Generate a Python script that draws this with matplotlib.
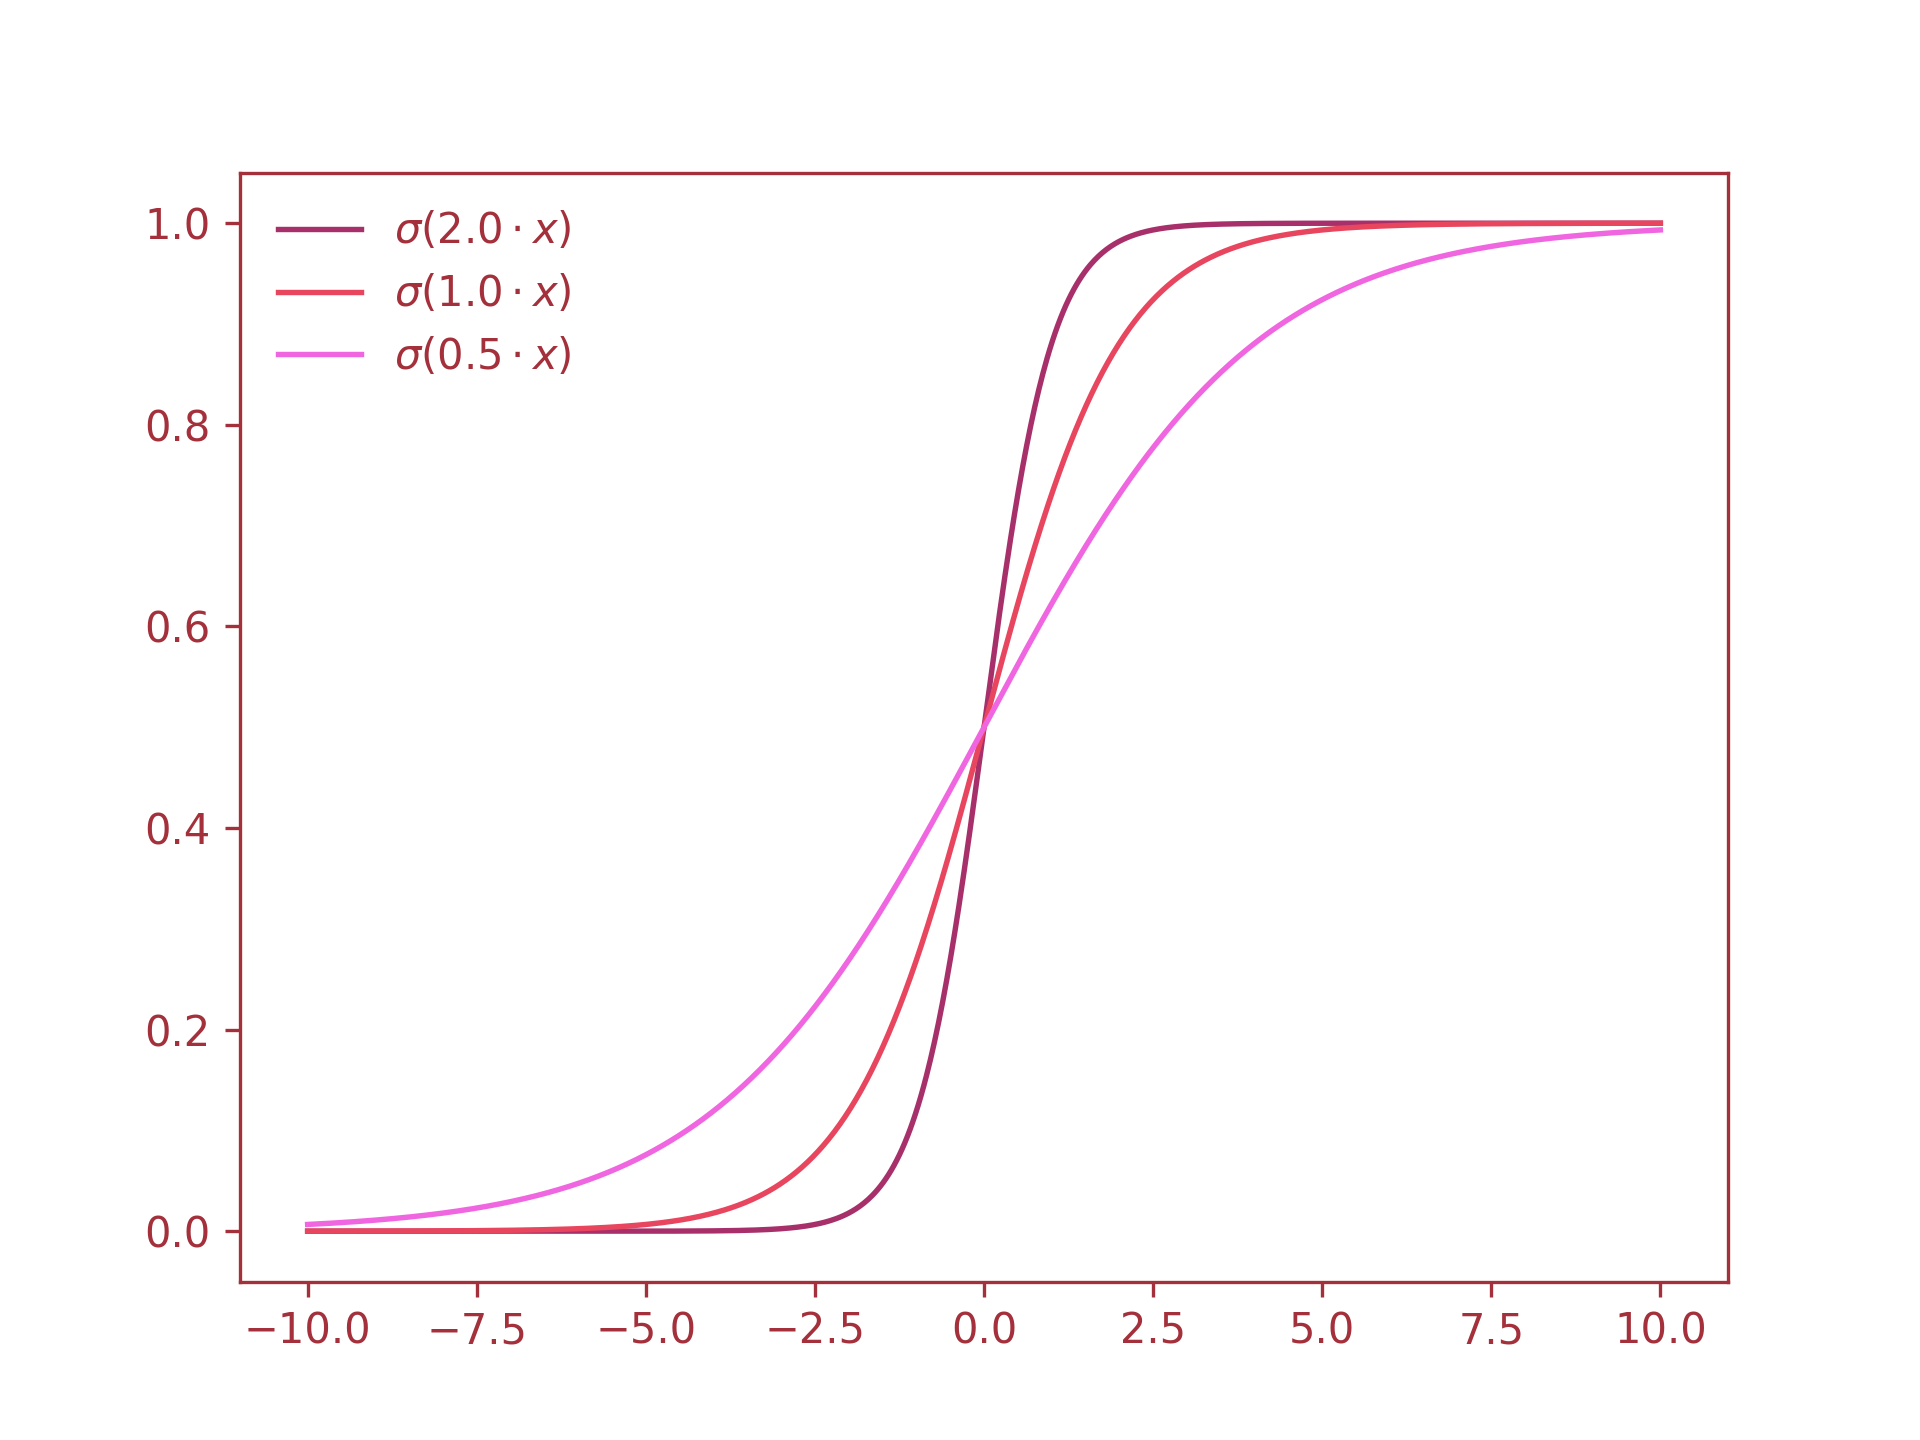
import numpy as np
import matplotlib
matplotlib.use("Agg")
import matplotlib.pyplot as plt

# steepness parameters of the plotted logistic curves
scales = [2.0, 1.0, 0.5]
labels = [r"$\sigma(2.0 \cdot x)$", r"$\sigma(1.0 \cdot x)$", r"$\sigma(0.5 \cdot x)$"]
colors = ["#a8306a", "#e8455f", "#f066e0"]
x_min, x_max = -10.0, 10.0

txt = "#a3303a"
fig, ax = plt.subplots(figsize=(6.4, 4.8), dpi=300)
x = np.linspace(x_min, x_max, 1000)
for s, lab, c in zip(scales, labels, colors):
    ax.plot(x, 1 / (1 + np.exp(-s * x)), color=c, lw=1.3, label=lab)

for sp in ax.spines.values():
    sp.set_color(txt)
ax.tick_params(colors=txt, labelcolor=txt)
ax.set_xticks(np.arange(-10, 10.1, 2.5))
leg = ax.legend(loc="upper left", frameon=False)
for t in leg.get_texts():
    t.set_color(txt)
fig.savefig("out.png")
